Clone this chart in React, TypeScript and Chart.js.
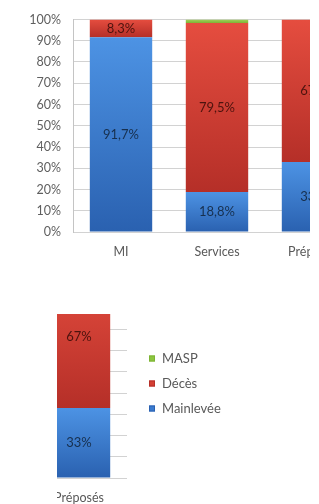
import React, { useEffect, useRef } from 'react';
import { Chart, registerables } from 'chart.js';

Chart.register(...registerables);

// ---- data ----
const categories = ['MI', 'Services', 'Préposés'];
const seriesNames = ['Mainlevée', 'Décès', 'MASP'];
const mainleveeValues = [91.7, 18.8, 33];
const decesValues = [8.3, 79.5, 67];
const maspValues = [0, 1.7, 0];
const yMin = 0;
const yMax = 100;
const yTickStep = 10;

// ---- styles ----
const FONT = 'Lato, "Open Sans", sans-serif';
const CW = 470;
const CH = 280;
const palette = [
  { top: '#4d93e4', bottom: '#2a61b0', solid: '#3a7bd0', text: '#17304f' },
  { top: '#e54d3f', bottom: '#b52f28', solid: '#d43f33', text: '#4d130e' },
  { top: '#a2d35a', bottom: '#7db334', solid: '#8cc63f', text: '#2b3d10' },
];

const fmt = (v: number) => String(v).replace('.', ',') + '%';

function segmentFill(di: number) {
  return (ctx: any) => {
    const chart = ctx.chart;
    const p = palette[di];
    const y = chart.scales && chart.scales.y;
    if (!chart.chartArea || !y || ctx.type !== 'data') return p.solid;
    const i = ctx.dataIndex;
    let start = 0;
    for (let k = 0; k < di; k++) start += Number(chart.data.datasets[k].data[i]) || 0;
    const v = Number(chart.data.datasets[di].data[i]) || 0;
    const y0 = y.getPixelForValue(start);
    const y1 = y.getPixelForValue(start + v);
    if (!isFinite(y0) || !isFinite(y1) || Math.abs(y0 - y1) < 1) return p.solid;
    const g = chart.ctx.createLinearGradient(0, y1, 0, y0);
    g.addColorStop(0, p.top);
    g.addColorStop(1, p.bottom);
    return g;
  };
}

const valueLabels = {
  id: 'valueLabels',
  afterDatasetsDraw(chart: any) {
    const c = chart.ctx;
    c.save();
    c.font = `13px ${FONT}`;
    c.textAlign = 'center';
    c.textBaseline = 'middle';
    chart.data.datasets.forEach((ds: any, di: number) => {
      const meta = chart.getDatasetMeta(di);
      meta.data.forEach((el: any, i: number) => {
        const v = Number(ds.data[i]);
        if (!(v >= 5)) return;
        c.fillStyle = palette[di].text;
        c.fillText(fmt(v), el.x, (el.y + el.base) / 2);
      });
    });
    c.restore();
  },
};

const sideLegend = {
  id: 'sideLegend',
  afterDraw(chart: any) {
    const c = chart.ctx;
    const area = chart.chartArea;
    const x = area.right + 22;
    const y0 = area.top + 93;
    const step = 25;
    const box = 6;
    c.save();
    c.font = `13px ${FONT}`;
    c.textAlign = 'left';
    c.textBaseline = 'middle';
    const n = chart.data.datasets.length;
    for (let r = 0; r < n; r++) {
      const di = n - 1 - r;
      const ds = chart.data.datasets[di];
      const cy = y0 + r * step;
      c.fillStyle = palette[di].solid;
      c.fillRect(x, cy - box / 2, box, box);
      c.strokeStyle = palette[di].bottom;
      c.lineWidth = 1;
      c.strokeRect(x + 0.5, cy - box / 2 + 0.5, box - 1, box - 1);
      c.fillStyle = '#595959';
      c.fillText(ds.label, x + box + 7, cy + 0.5);
    }
    c.restore();
  },
};

function makeConfig(): any {
  const values = [mainleveeValues, decesValues, maspValues];
  return {
    type: 'bar',
    data: {
      labels: categories,
      datasets: seriesNames.map((name, di) => ({
        label: name,
        data: values[di],
        backgroundColor: segmentFill(di),
        borderWidth: 0,
        barPercentage: 0.65,
        categoryPercentage: 1,
      })),
    },
    options: {
      responsive: false,
      animation: false,
      devicePixelRatio: 1,
      layout: { padding: { top: 14, right: CW - 361, bottom: 10, left: 0 } },
      plugins: {
        legend: { display: false },
        tooltip: { enabled: false },
      },
      scales: {
        x: {
          stacked: true,
          grid: { display: false, drawTicks: false },
          border: { display: false },
          ticks: { color: '#595959', font: { family: FONT, size: 12.5 }, padding: 12 },
          afterFit: (s: any) => { s.height = 38; },
        },
        y: {
          stacked: true,
          min: yMin,
          max: yMax,
          grid: { color: '#d2d2d2', drawTicks: false, lineWidth: 1 },
          border: { display: true, color: '#c4c4c4' },
          ticks: {
            stepSize: yTickStep,
            color: '#5f5f5f',
            font: { family: FONT, size: 12.5 },
            padding: 12,
            callback: (v: any) => v + '%',
          },
          afterFit: (s: any) => { s.width = 73; },
        },
      },
    },
    plugins: [valueLabels, sideLegend],
  };
}

function ChartCanvas() {
  const ref = useRef<HTMLCanvasElement>(null);
  useEffect(() => {
    const chart = new Chart(ref.current as HTMLCanvasElement, makeConfig());
    return () => chart.destroy();
  }, []);
  return (
    <canvas
      ref={ref}
      width={CW}
      height={CH}
      style={{ display: 'block', width: CW, height: CH }}
    />
  );
}

export default function App() {
  return (
    <div
      style={{
        position: 'fixed',
        left: 0,
        top: 0,
        width: 319,
        height: 504,
        overflow: 'hidden',
        background: '#fff',
      }}
    >
      <div style={{ position: 'absolute', left: 0, top: 0, width: 310, height: 262, overflow: 'hidden' }}>
        <div style={{ position: 'absolute', left: 0, top: 0 }}>
          <ChartCanvas />
        </div>
      </div>
      <div style={{ position: 'absolute', left: 57, top: 314, width: 262, height: 190, overflow: 'hidden' }}>
        <div style={{ position: 'absolute', left: -291, top: -68 }}>
          <ChartCanvas />
        </div>
      </div>
    </div>
  );
}
